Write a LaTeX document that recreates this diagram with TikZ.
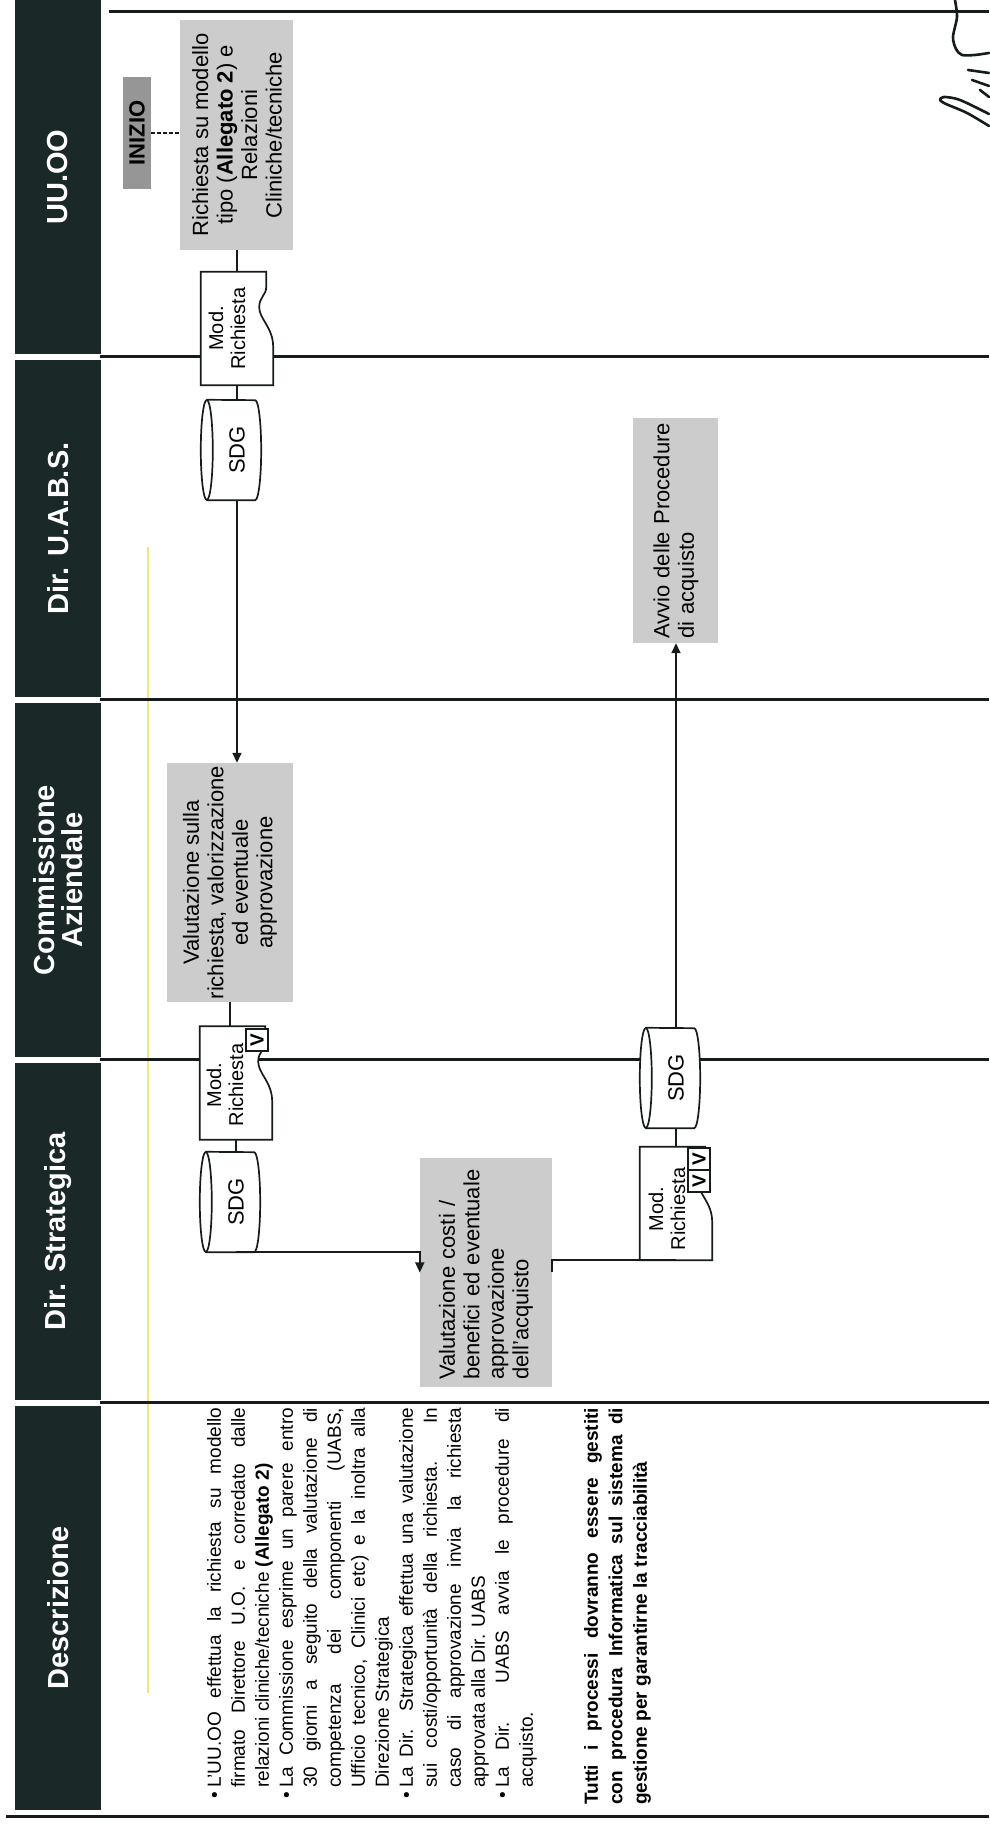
\documentclass[tikz,border=0pt]{standalone}
\usepackage{fontspec}
\setmainfont{Liberation Sans}
\usetikzlibrary{calc,arrows.meta}
\pgfdeclarelayer{lanes}
\pgfdeclarelayer{shapes}
\pgfsetlayers{lanes,shapes,main}

\definecolor{hdr}{RGB}{27,40,40}
\definecolor{ink}{RGB}{22,28,28}
\definecolor{boxgray}{RGB}{204,204,204}
\definecolor{startgray}{RGB}{150,150,150}
\definecolor{hilite}{RGB}{238,234,120}

% hanging bullet for the description list
\newcommand\itembul{\leavevmode\llap{\textbullet\hspace{4pt}}}

% document symbol (113 x 72) with a wavy lower edge
\newcommand\docoutline[1]{%
  \begin{pgfonlayer}{shapes}
    \filldraw[shp, fill=white] (#1.north west) -- (#1.south west)
      -- ($(#1.south west)+(38,0)$)
      .. controls ($(#1.south west)+(58,0)$) and ($(#1.south west)+(66,14)$) .. ($(#1.south west)+(78,14)$)
      .. controls ($(#1.south west)+(88,14)$) and ($(#1.south west)+(90,7)$) .. ($(#1.south west)+(98,7)$)
      -- ($(#1.south east)+(0,7)$) -- (#1.north east) -- cycle;
  \end{pgfonlayer}}

% data-store cylinder around a 100 x 48 body node, cap on top
\newcommand\cyloutline[1]{%
  \begin{pgfonlayer}{shapes}
    \fill[white] ($(#1.north west)+(0,6)$) -- ($(#1.south west)+(0,6)$)
      arc[start angle=180, end angle=360, x radius=50pt, y radius=6pt]
      -- ($(#1.north east)+(0,6)$)
      arc[start angle=0, end angle=180, x radius=50pt, y radius=6pt] -- cycle;
    \draw[shp] ($(#1.north west)+(0,6)$) -- ($(#1.south west)+(0,6)$)
      arc[start angle=180, end angle=360, x radius=50pt, y radius=6pt]
      -- ($(#1.north east)+(0,6)$);
    \draw[shp] ($(#1.north)+(0,6)$) ellipse[x radius=50pt, y radius=6pt];
  \end{pgfonlayer}}

\begin{document}
% The sheet is laid out in landscape (u to the right, v upwards) and turned
% a quarter turn; the path operations |- and -| act on the turned page,
% while (a |- b) coordinates are taken in the landscape frame.
\begin{tikzpicture}[x=1pt, y=1pt, rotate=90, transform shape,
  lane/.style={draw=ink, line width=3pt},
  shp/.style={draw=ink, line width=1.7pt},
  conn/.style={draw=ink, line width=1.5pt},
  arr/.style={conn, -{Triangle[length=10pt,width=9pt]}},
  startlink/.style={draw=ink, line width=1.2pt, dash pattern=on 4pt off 2pt},
  sig/.style={draw=ink, line width=2.6pt, line cap=round, line join=round},
  hdrblk/.style={fill=hdr, text=white, inner sep=0pt, minimum height=86pt,
    font=\fontsize{29}{28}\selectfont\bfseries, align=center},
  greybox/.style={fill=boxgray, inner sep=0pt, font=\fontsize{22}{24.5}\selectfont},
  startbox/.style={fill=startgray, inner sep=0pt, minimum width=112pt, minimum height=28pt,
    font=\fontsize{22}{24}\selectfont\bfseries},
  docnode/.style={inner sep=0pt, minimum width=113pt, minimum height=72pt},
  doctext/.style={inner sep=0pt, align=center, font=\fontsize{20}{22}\selectfont},
  cylnode/.style={inner sep=0pt, minimum width=100pt, minimum height=48pt,
    font=\fontsize{22}{24}\selectfont},
  vmark/.style={draw=ink, line width=1.4pt, fill=white, inner sep=0pt,
    minimum width=22pt, minimum height=22pt, font=\fontsize{19}{19}\selectfont\bfseries},
  desctxt/.style={inner sep=0pt, anchor=north west, align=justify,
    font=\fontsize{19}{24}\selectfont}]

\useasboundingbox (0,0) rectangle (1827,989);

% ---- table frame and lane separators
\begin{pgfonlayer}{lanes}
  \fill[white] (0,0) rectangle (1827,989);
  \draw[hilite, line width=1.2pt] (134,841) -- (1280,841);
  \draw[lane] (1815,880) -- (1815,0);
  \foreach \u in {1470,1127,767,424} \draw[lane] (\u,889) -- (\u,0);
  \draw[lane] (10,983) -- (10,0);
\end{pgfonlayer}

% ---- lane headers
\node[hdrblk, minimum width=354pt] (hUU)    at (1650,931)   {UU.OO};
\node[hdrblk, minimum width=337pt] (hUABS)  at (1298.5,931) {Dir. U.A.B.S.};
\node[hdrblk, minimum width=354pt] (hComm)  at (947,931)    {Commissione\\Aziendale};
\node[hdrblk, minimum width=337pt] (hStrat) at (595.5,931)  {Dir. Strategica};
\node[hdrblk, minimum width=404pt] (hDesc)  at (219,931)    {Descrizione};

% ---- UU.OO
\node[startbox] (inizio) at (1694,852) {INIZIO};
\node[greybox, minimum width=230pt, minimum height=113pt, align=center] (rich) at (1692,752)
  {Richiesta su modello\\tipo (\textbf{Allegato 2}) e\\Relazioni\\Cliniche/tecniche};
\node[docnode] (docU) at (1498.5,752) {};
\docoutline{docU}
\node[doctext] (docUt) at (1498.5,762) {Mod.\\Richiesta};

% ---- Dir. U.A.B.S.
\node[cylnode] (sdgU) at (1377,752) {SDG};
\cyloutline{sdgU}
\node[greybox, minimum width=225pt, minimum height=85pt, text width=217pt, align=left] (avvio) at (1296.5,313)
  {Avvio delle Procedure\\di acquisto};

% ---- Commissione Aziendale
\node[greybox, minimum width=239pt, minimum height=126pt, align=center] (comm) at (944.5,759)
  {Valutazione sulla\\richiesta, valorizzazione\\ed eventuale\\approvazione};
\node[docnode] (docC) at (744,753) {};
\docoutline{docC}
\node[doctext] (docCt) at (742,764) {Mod.\\Richiesta};
\node[vmark] (vC) at (787,732) {V};
\node[cylnode] (sdgC) at (749,313) {SDG};
\cyloutline{sdgC}

% ---- Dir. Strategica
\node[cylnode] (sdgS) at (625,753) {SDG};
\cyloutline{sdgS}
\node[greybox, minimum width=229pt, minimum height=132pt, text width=215pt, align=left] (strat) at (554.5,503)
  {Valutazione costi /\\benefici ed eventuale\\approvazione\\dell'acquisto};
\node[docnode] (docS) at (623.5,313) {};
\docoutline{docS}
\node[doctext] (docSt) at (618,322) {Mod.\\Richiesta};
\node[vmark] (vS1) at (668,290) {V};
\node[vmark] (vS2) at (646,290) {V};

% ---- connectors
\draw[startlink] (inizio.south) -- (inizio.south |- rich.north);
\draw[conn] (rich.west) -- (docU.east);
\draw[conn] (docU.west) -- (sdgU.east);
\draw[arr]  (sdgU.west) -- (comm.east |- sdgU.west);
\draw[conn] (comm.west) -- (docC.east |- comm.west);
\draw[conn] (docC.west) -- (sdgS.east);
\draw[arr]  (sdgS.west) |- (strat.north);
\draw[conn] (strat.south) -| (docS.west);
\draw[conn] (docS.east) -- (sdgC.west);
\draw[arr]  (sdgC.east) -- (avvio.west);

% ---- description column
\node[desctxt, text width=380pt] (desc) at (39,782) {\tolerance=10000 \hbadness=10000
  \itembul L'UU.OO effettua la richiesta su modello\linebreak
  firmato Direttore U.O. e corredato dalle\linebreak
  relazioni cliniche/tecniche \textbf{(Allegato 2)}\par
  \itembul La Commissione esprime un parere entro\linebreak
  30 giorni a seguito della valutazione di\linebreak
  competenza dei componenti (UABS,\linebreak
  Ufficio tecnico, Clinici etc) e la inoltra alla\linebreak
  Direzione Strategica\par
  \itembul La Dir. Strategica effettua una valutazione\linebreak
  sui costi/opportunità della richiesta. In\linebreak
  caso di approvazione invia la richiesta\linebreak
  approvata alla Dir. UABS\par
  \itembul La Dir. UABS avvia le procedure di\linebreak
  acquisto.};
\node[desctxt, text width=397pt, font=\fontsize{19}{24.5}\selectfont\bfseries] (note) at (22,405)
  {\tolerance=10000 \hbadness=10000
  Tutti i processi dovranno essere gestiti\linebreak
  con procedura Informatica sul sistema di\linebreak
  gestione per garantirne la tracciabilità};

% ---- signature in the corner
\draw[sig] plot[smooth] coordinates {(1827,34) (1810,32) (1790,36) (1778,33) (1772,27) (1772,14) (1774,0)};
\draw[sig] (1757,21) -- (1754,0);
\draw[sig] (1747,17) -- (1741,0);
\draw[sig] plot[smooth] coordinates {(1713,0) (1727,29) (1730,45) (1727,49) (1723,43) (1714,22) (1701,0)};
\draw[sig] (1737,9) -- (1730,0);
\end{tikzpicture}
\end{document}
